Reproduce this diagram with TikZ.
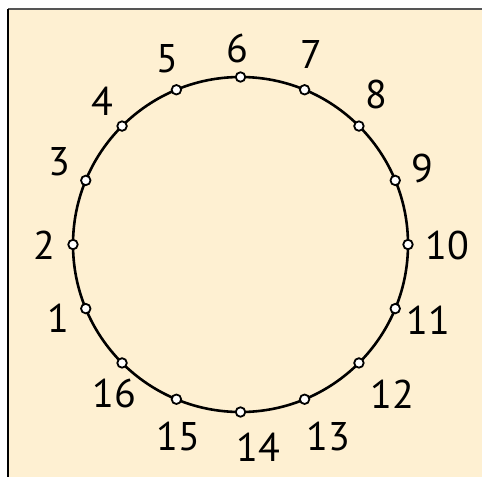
\documentclass[tikz,border=0pt]{standalone}
\usepackage{fontspec}
\setmainfont{PT Sans}
\definecolor{bg}{HTML}{FEF0D2}
\definecolor{topline}{HTML}{555555}
\begin{document}
\begin{tikzpicture}[x=1pt,y=-1pt,
  dot/.style={circle,draw=black,fill=white,line width=1.8pt,minimum size=9.5pt,inner sep=0pt},
  lab/.style={inner sep=0pt,font=\fontsize{40}{40}\selectfont,text=black},
  ring/.style={draw=black,line width=2.6pt}]
\useasboundingbox (0,0) rectangle (482,477);
\fill[white] (0,0) rectangle (482,477);
\fill[bg] (8,9) rectangle (482,477);
\draw[topline,line width=2pt] (8,9) -- (482,9);
\draw[black,line width=2pt] (8,9) -- (8,477);
\coordinate (c) at (240.5,244.5);
\draw[ring] (c) circle (167.5);
\foreach \k in {1,...,16}{
  \pgfmathsetmacro{\px}{240.5+167.5*cos(225-22.5*\k)}
  \pgfmathsetmacro{\py}{244.5-167.5*sin(225-22.5*\k)}
  \node[dot] (n\k) at (\px,\py) {};
}
\foreach \k/\x/\y in {1/58/318,2/44/245,3/59/162,4/102/101,5/167/59,6/237/48,7/311/54,8/376/94,9/422/168,10/447/245,11/428/320,12/392/394,13/328/436,14/258/447,15/178/436,16/114/393}{
  \node[lab] (l\k) at (\x,\y) {\k};
}
\end{tikzpicture}
\end{document}
